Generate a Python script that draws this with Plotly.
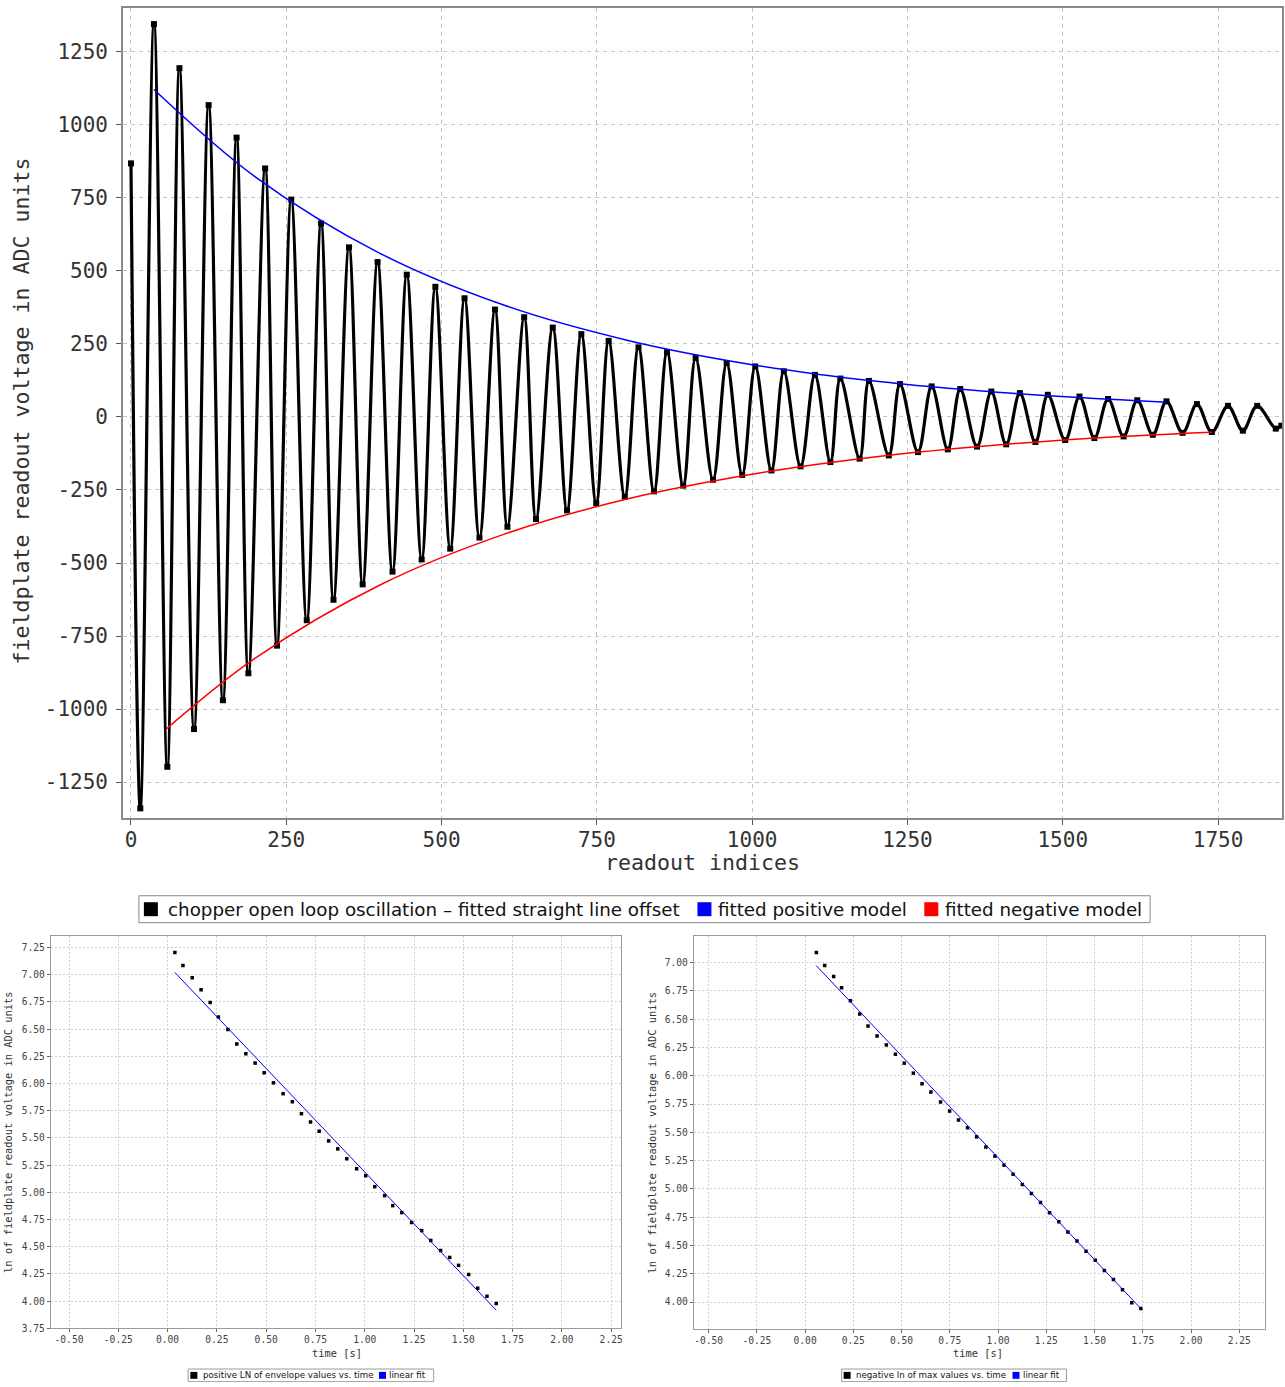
import numpy as np
import plotly.graph_objects as go

# ---------------- data ----------------
# positive envelope peaks: time [s] and ln(ADC value)
pos_peak_time = [0.037, 0.078, 0.125, 0.170, 0.216, 0.258, 0.306, 0.351, 0.397, 0.444,
                 0.490, 0.537, 0.586, 0.633, 0.679, 0.725, 0.769, 0.817, 0.863, 0.909,
                 0.959, 1.005, 1.051, 1.101, 1.142, 1.188, 1.238, 1.289, 1.335, 1.385,
                 1.431, 1.476, 1.527, 1.573, 1.620, 1.667]
pos_peak_ln = [7.204, 7.085, 6.973, 6.863, 6.746, 6.612, 6.496, 6.364, 6.273, 6.188,
               6.099, 6.007, 5.907, 5.833, 5.723, 5.647, 5.562, 5.473, 5.400, 5.309,
               5.217, 5.153, 5.052, 4.970, 4.878, 4.814, 4.723, 4.649, 4.558, 4.466,
               4.402, 4.329, 4.246, 4.118, 4.045, 3.978]

# negative envelope troughs: time [s] and ln(|ADC value|)
neg_peak_time = [0.0585, 0.1015, 0.148, 0.189, 0.235, 0.283, 0.326, 0.373, 0.421, 0.468,
                 0.514, 0.561, 0.606, 0.652, 0.702, 0.749, 0.795, 0.842, 0.889, 0.937,
                 0.984, 1.031, 1.078, 1.126, 1.173, 1.220, 1.267, 1.315, 1.362, 1.409,
                 1.456, 1.504, 1.551, 1.598, 1.645, 1.693, 1.740]
neg_peak_ln = [7.088, 6.974, 6.877, 6.777, 6.663, 6.545, 6.439, 6.351, 6.272, 6.190,
               6.111, 6.023, 5.929, 5.856, 5.768, 5.688, 5.609, 5.540, 5.460, 5.370,
               5.290, 5.210, 5.130, 5.040, 4.960, 4.880, 4.790, 4.710, 4.620, 4.540,
               4.450, 4.370, 4.280, 4.200, 4.110, 3.995, 3.943]

# other extremes of the oscillation (readout index, ADC units)
extra_wave_index = [0, 15, 1716, 1766, 1790, 1813, 1843, 1852]
extra_wave_value = [868, -1340, 44, 38, -47, 38, -40, -30]

# fitted models shown in the top chart (readout index, ADC units)
pos_model_index = [37, 200, 400, 600, 800, 1000, 1200, 1400, 1667]
pos_model_value = [1121, 822, 561, 383, 262, 179, 122, 84, 50]
neg_model_index = [57, 200, 400, 600, 800, 1000, 1200, 1400, 1600, 1740]
neg_model_value = [-1068, -826, -576, -402, -280, -196, -136, -95, -66, -52]

# linear fits in the ln plots
pos_fit_time = [0.037, 1.667]
pos_fit_ln = [7.021, 3.917]
neg_fit_time = [0.057, 1.740]
neg_fit_ln = [6.974, 3.943]

# tick labels
top_x_ticks = [0, 250, 500, 750, 1000, 1250, 1500, 1750]
top_y_ticks = [-1250, -1000, -750, -500, -250, 0, 250, 500, 750, 1000, 1250]
bot_x_ticks = [-0.5, -0.25, 0.0, 0.25, 0.5, 0.75, 1.0, 1.25, 1.5, 1.75, 2.0, 2.25]
bl_y_ticks = [3.75, 4.0, 4.25, 4.5, 4.75, 5.0, 5.25, 5.5, 5.75, 6.0, 6.25, 6.5, 6.75, 7.0, 7.25]
br_y_ticks = [4.0, 4.25, 4.5, 4.75, 5.0, 5.25, 5.5, 5.75, 6.0, 6.25, 6.5, 6.75, 7.0]

top_legend_names = ["chopper open loop oscillation \u2013 fitted straight line offset",
                    "fitted positive model", "fitted negative model"]
bl_legend_names = ["positive LN of envelope values vs. time", "linear fit"]
br_legend_names = ["negative ln of max values vs. time", "linear fit"]

# ---------------- build waveform ----------------
w_idx = np.concatenate([np.array(pos_peak_time) * 1000, np.array(neg_peak_time) * 1000,
                        np.array(extra_wave_index, dtype=float)])
w_val = np.concatenate([np.exp(pos_peak_ln), -np.exp(neg_peak_ln),
                        np.array(extra_wave_value, dtype=float)])
order = np.argsort(w_idx)
w_idx, w_val = w_idx[order], w_val[order]

W, H = 1285, 1382   # page adds a few px below the figure
def px(x): return x / W
def py(y): return 1 - y / H

MONO = "DejaVu Sans Mono"
SANS = "DejaVu Sans"

fig = go.Figure()

# top chart
fig.add_trace(go.Scatter(x=w_idx, y=w_val, mode="lines+markers", name="oscillation",
                         line=dict(color="black", width=3.2, shape="spline", smoothing=1.0),
                         marker=dict(symbol="square", size=6, color="black"),
                         showlegend=False, xaxis="x", yaxis="y", hoverinfo="skip"))
fig.add_trace(go.Scatter(x=pos_model_index, y=pos_model_value, mode="lines",
                         line=dict(color="#0000ff", width=1.5, shape="spline"),
                         showlegend=False, xaxis="x", yaxis="y"))
fig.add_trace(go.Scatter(x=neg_model_index, y=neg_model_value, mode="lines",
                         line=dict(color="#ff0000", width=1.5, shape="spline"),
                         showlegend=False, xaxis="x", yaxis="y"))

# bottom-left
fig.add_trace(go.Scatter(x=pos_peak_time, y=pos_peak_ln, mode="markers",
                         marker=dict(symbol="square", size=3.5, color="black"),
                         showlegend=False, xaxis="x2", yaxis="y2"))
fig.add_trace(go.Scatter(x=pos_fit_time, y=pos_fit_ln, mode="lines",
                         line=dict(color="#0000ff", width=1),
                         showlegend=False, xaxis="x2", yaxis="y2"))

# bottom-right
fig.add_trace(go.Scatter(x=neg_peak_time, y=neg_peak_ln, mode="markers",
                         marker=dict(symbol="square", size=3.5, color="black"),
                         showlegend=False, xaxis="x3", yaxis="y3"))
fig.add_trace(go.Scatter(x=neg_fit_time, y=neg_fit_ln, mode="lines",
                         line=dict(color="#0000ff", width=1),
                         showlegend=False, xaxis="x3", yaxis="y3"))

top_axis = dict(showline=True, mirror=True, linecolor="#8a8a8a", linewidth=1.5,
                ticks="outside", ticklen=5, tickcolor="#555", tickwidth=1,
                showgrid=True, gridcolor="#c4c4c4", griddash="4px,4px", gridwidth=1,
                zeroline=False, tickfont=dict(family=MONO, size=21, color="#333"))
bot_axis = dict(showline=True, mirror=True, linecolor="#9a9a9a", linewidth=1,
                ticks="outside", ticklen=3, tickcolor="#666", tickwidth=1,
                showgrid=True, gridcolor="#d0d0d0", griddash="2px,2px", gridwidth=1,
                zeroline=False, tickfont=dict(family=MONO, size=9.6, color="#444"))

shapes = []
annotations = []

def legend_box(x0, x1, y0, y1, sq, size, items, border):
    shapes.append(dict(type="rect", xref="paper", yref="paper",
                       x0=px(x0), x1=px(x1), y0=py(y1), y1=py(y0),
                       line=dict(color=border, width=1), fillcolor="white", layer="above"))
    yc = (y0 + y1) / 2
    for (sq_x, text_x, name, col) in items:
        shapes.append(dict(type="rect", xref="paper", yref="paper",
                           x0=px(sq_x), x1=px(sq_x + sq), y0=py(yc + sq / 2), y1=py(yc - sq / 2),
                           line=dict(width=0), fillcolor=col, layer="above"))
        annotations.append(dict(text=name, x=px(text_x), y=py(yc), xref="paper", yref="paper",
                                xanchor="left", yanchor="middle", showarrow=False,
                                font=dict(family=SANS, size=size, color="#111")))

legend_box(139, 1151, 899, 926, 14, 18.3,
           [(144, 166, top_legend_names[0], "black"),
            (698, 717, top_legend_names[1], "#0000ff"),
            (925, 944, top_legend_names[2], "#ff0000")], "#888")
legend_box(188.3, 434, 1374, 1386.7, 7, 8.7,
           [(190.5, 201, bl_legend_names[0], "black"),
            (379.3, 387.8, bl_legend_names[1], "#0000ff")], "#999")
legend_box(842.3, 1067.3, 1374, 1386.7, 7, 8.7,
           [(844.3, 855, br_legend_names[0], "black"),
            (1013.3, 1022, br_legend_names[1], "#0000ff")], "#999")

def title(text, x, y, size, angle=0):
    annotations.append(dict(text=text, x=px(x), y=py(y), xref="paper", yref="paper",
                            xanchor="center", yanchor="middle", textangle=angle,
                            showarrow=False, font=dict(family=MONO, size=size, color="#333")))

title("fieldplate readout voltage in ADC units", 22, 412, 21.6, -90)
title("readout indices", 703, 866, 21.6)
title("ln of fieldplate readout voltage in ADC units", 8, 1136, 10.4, -90)
title("time [s]", 337, 1358, 10.4)
title("ln of fieldplate readout voltage in ADC units", 652, 1136, 10.4, -90)
title("time [s]", 979, 1358, 10.4)

fig.update_layout(
    width=W, height=H, margin=dict(l=0, r=0, t=0, b=0),
    paper_bgcolor="white", plot_bgcolor="white", showlegend=False,
    xaxis=dict(top_axis, domain=[px(123), px(1283)], range=[-13, 1853],
               tickvals=top_x_ticks, ticktext=[str(v) for v in top_x_ticks], anchor="y",
               ticklabelstandoff=-3),
    yaxis=dict(top_axis, domain=[py(821), py(8)], range=[-1373, 1400],
               tickvals=top_y_ticks, ticktext=[str(v) for v in top_y_ticks], anchor="x",
               ticklabelstandoff=4),
    xaxis2=dict(bot_axis, domain=[px(50.7), px(621.7)], range=[-0.593, 2.301],
                tickvals=bot_x_ticks, ticktext=["%.2f" % v for v in bot_x_ticks], anchor="y2",
                ticklabelstandoff=-1),
    yaxis2=dict(bot_axis, domain=[py(1333.3), py(939)], range=[3.749, 7.36],
                tickvals=bl_y_ticks, ticktext=["%.2f" % v for v in bl_y_ticks], anchor="x2"),
    xaxis3=dict(bot_axis, domain=[px(694.3), px(1265.7)], range=[-0.577, 2.382],
                tickvals=bot_x_ticks, ticktext=["%.2f" % v for v in bot_x_ticks], anchor="y3",
                ticklabelstandoff=-1),
    yaxis3=dict(bot_axis, domain=[py(1334), py(939)], range=[3.761, 7.238],
                tickvals=br_y_ticks, ticktext=["%.2f" % v for v in br_y_ticks], anchor="x3"),
    shapes=shapes,
    annotations=annotations,
)

fig.write_html("out.html")
